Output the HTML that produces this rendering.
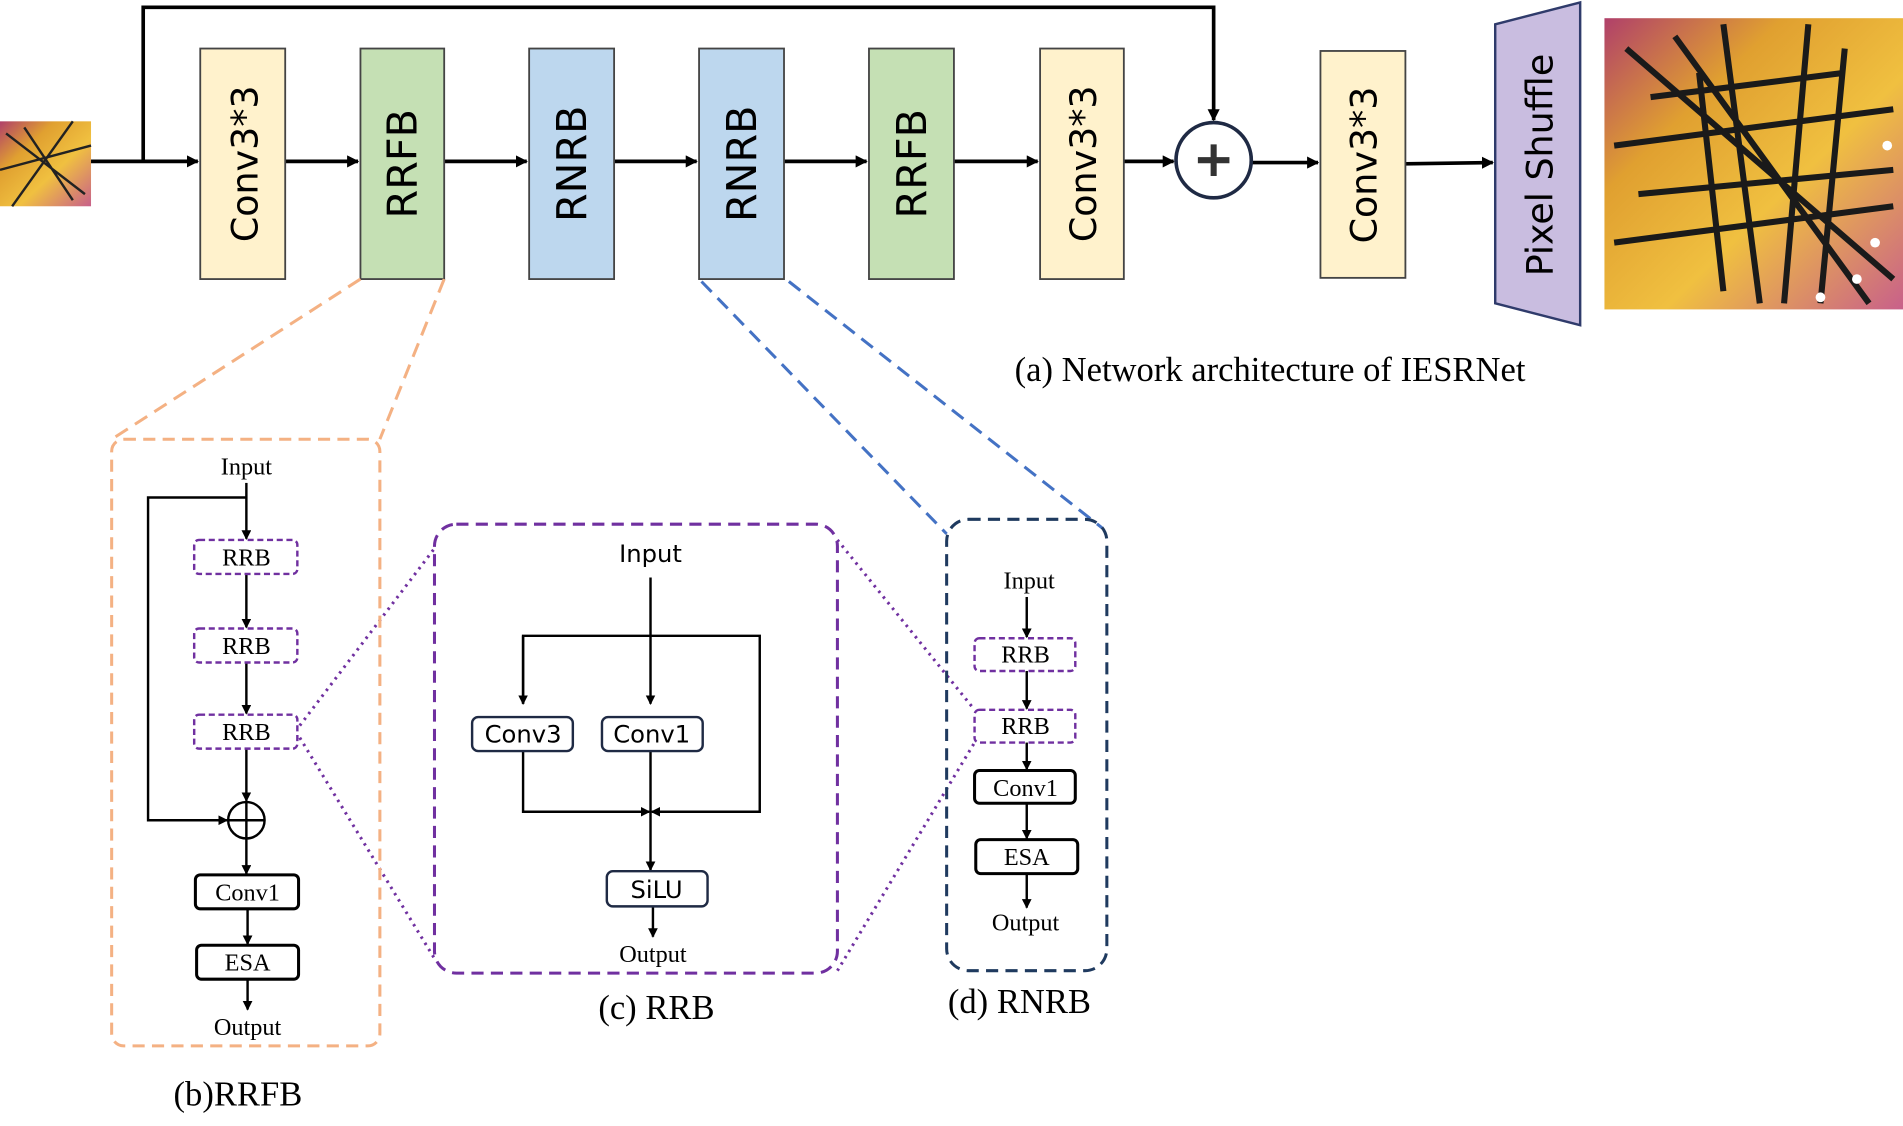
<!DOCTYPE html>
<html><head><meta charset="utf-8"><style>html,body{margin:0;padding:0;background:#fff}svg{display:block}</style></head>
<body>
<svg width="1903" height="1126" viewBox="0 0 1568 928" preserveAspectRatio="none" xmlns="http://www.w3.org/2000/svg">
<defs>
<marker id="a" markerWidth="10" markerHeight="10" refX="9" refY="5" orient="auto" markerUnits="userSpaceOnUse"><path d="M0,0 L10,5 L0,10 z" fill="#000"/></marker>
<marker id="s" markerWidth="8" markerHeight="8" refX="7" refY="4" orient="auto" markerUnits="userSpaceOnUse"><path d="M0,0 L8,4 L0,8 z" fill="#000"/></marker>
<linearGradient id="bf" x1="0" y1="0" x2="1" y2="1"><stop offset="0" stop-color="#b0406a"/><stop offset="0.3" stop-color="#e0a030"/><stop offset="0.6" stop-color="#f0c040"/><stop offset="1" stop-color="#c8608a"/></linearGradient>
</defs>
<style>
.t{font-family:"DejaVu Sans","Liberation Sans",sans-serif;font-size:30px}
.s{font-family:"Liberation Serif",serif;font-size:20px}
.c{font-family:"Liberation Serif",serif;font-size:28.5px}
.ss{font-family:"DejaVu Sans","Liberation Sans",sans-serif;font-size:20px}
</style>
<rect x="0" y="100" width="75" height="70" fill="url(#bf)"/>
<path d="M5,110 L70,160 M20,105 L60,165 M0,140 L75,120 M10,170 L60,100" stroke="#222" stroke-width="2"/>
<rect x="1322" y="15" width="246" height="240" fill="url(#bf)"/>
<path d="M1340,40 L1560,230 M1380,30 L1540,250 M1330,120 L1560,90 M1420,20 L1450,250 M1490,20 L1470,250 M1330,200 L1560,170 M1360,80 L1520,60 M1350,160 L1560,140 M1400,60 L1420,240 M1520,40 L1500,250" stroke="#1a1a1a" stroke-width="5" fill="none"/>
<g fill="#fff"><circle cx="1545" cy="200" r="4"/><circle cx="1530" cy="230" r="4"/><circle cx="1555" cy="120" r="4"/><circle cx="1500" cy="245" r="4"/></g>
<g stroke="#000" stroke-width="3" fill="none">
<line x1="75" y1="133" x2="163" y2="133" marker-end="url(#a)"/>
<line x1="235" y1="133" x2="295" y2="133" marker-end="url(#a)"/>
<line x1="366" y1="133" x2="434" y2="133" marker-end="url(#a)"/>
<line x1="506" y1="133" x2="574" y2="133" marker-end="url(#a)"/>
<line x1="646" y1="133" x2="714" y2="133" marker-end="url(#a)"/>
<line x1="786" y1="133" x2="855" y2="133" marker-end="url(#a)"/>
<line x1="926" y1="133" x2="967" y2="133" marker-end="url(#a)"/>
<line x1="1032" y1="134" x2="1086" y2="134" marker-end="url(#a)"/>
<line x1="1158" y1="135" x2="1230" y2="134" marker-end="url(#a)"/>
<polyline points="118,133 118,6 1000,6 1000,99" marker-end="url(#a)"/>
</g>
<g stroke="#444" stroke-width="1.5">
<rect x="165" y="40" width="70" height="190" fill="#fff2cc"/>
<rect x="297" y="40" width="69" height="190" fill="#c5e0b4"/>
<rect x="436" y="40" width="70" height="190" fill="#bdd7ee"/>
<rect x="576" y="40" width="70" height="190" fill="#bdd7ee"/>
<rect x="716" y="40" width="70" height="190" fill="#c5e0b4"/>
<rect x="857" y="40" width="69" height="190" fill="#fff2cc"/>
<rect x="1088" y="42" width="70" height="187" fill="#fff2cc"/>
<polygon points="1232,20 1302,2 1302,268 1232,250" fill="#c9bde0" stroke="#2f3b6b" stroke-width="2"/>
</g>
<circle cx="1000" cy="132" r="31" fill="#fff" stroke="#1f2a44" stroke-width="3"/>
<path d="M987,132 H1013 M1000,119 V145" stroke="#333" stroke-width="5"/>
<g class="t" text-anchor="middle">
<text transform="translate(212,135) rotate(-90)">Conv3*3</text>
<text transform="translate(343,135) rotate(-90)" font-size="34">RRFB</text>
<text transform="translate(483,135) rotate(-90)" font-size="34">RNRB</text>
<text transform="translate(623,135) rotate(-90)" font-size="34">RNRB</text>
<text transform="translate(763,135) rotate(-90)" font-size="34">RRFB</text>
<text transform="translate(903,135) rotate(-90)">Conv3*3</text>
<text transform="translate(1134,136) rotate(-90)">Conv3*3</text>
<text transform="translate(1279,136) rotate(-90)">Pixel Shuffle</text>
</g>
<text class="c" x="836" y="314">(a) Network architecture of IESRNet</text>
<g stroke-width="2.5" fill="none" stroke-dasharray="12,7">
<path d="M297,230 L92,362 M366,230 L313,362" stroke="#f4b183"/>
<path d="M578,232 L780,440 M650,232 L908,435" stroke="#4472c4"/>
</g>
<g stroke="#7030a0" stroke-width="2.5" fill="none" stroke-dasharray="2,4">
<path d="M247,598 L358,452 M247,608 L358,790 M690,445 L803,585 M690,800 L803,612"/>
</g>
<rect x="92" y="362" width="221" height="500" rx="10" fill="none" stroke="#f4b183" stroke-width="2.5" stroke-dasharray="10,6"/>
<rect x="358" y="432" width="332" height="370" rx="18" fill="none" stroke="#7030a0" stroke-width="2.5" stroke-dasharray="10,6"/>
<rect x="780" y="428" width="132" height="372" rx="18" fill="none" stroke="#1f3a5f" stroke-width="2.5" stroke-dasharray="10,6"/>
<g stroke="#000" stroke-width="2" fill="none">
<line x1="203" y1="398" x2="203" y2="444" marker-end="url(#s)"/>
<line x1="203" y1="473" x2="203" y2="517" marker-end="url(#s)"/>
<line x1="203" y1="546" x2="203" y2="588" marker-end="url(#s)"/>
<line x1="203" y1="617" x2="203" y2="660" marker-end="url(#s)"/>
<polyline points="203,410 122,410 122,676 187,676" marker-end="url(#s)"/>
<line x1="203" y1="691" x2="203" y2="720" marker-end="url(#s)"/>
<line x1="204" y1="749" x2="204" y2="778" marker-end="url(#s)"/>
<line x1="204" y1="807" x2="204" y2="832" marker-end="url(#s)"/>
<circle cx="203" cy="676" r="15"/><path d="M188,676 H218 M203,661 V691"/>
</g>
<g stroke="#7030a0" stroke-width="2" fill="#fff" stroke-dasharray="5,3">
<rect x="160" y="445" width="85" height="28" rx="4"/>
<rect x="160" y="518" width="85" height="28" rx="4"/>
<rect x="160" y="589" width="85" height="28" rx="4"/>
<rect x="803" y="526" width="83" height="27" rx="4"/>
<rect x="803" y="585" width="83" height="27" rx="4"/>
</g>
<g stroke="#000" stroke-width="2.5" fill="#fff">
<rect x="161" y="721" width="85" height="28" rx="4"/>
<rect x="162" y="779" width="84" height="28" rx="4"/>
<rect x="803" y="635" width="83" height="27" rx="4"/>
<rect x="804" y="692" width="84" height="28" rx="4"/>
</g>
<g class="s" text-anchor="middle">
<text x="203" y="391">Input</text>
<text x="203" y="466">RRB</text><text x="203" y="539">RRB</text><text x="203" y="610">RRB</text>
<text x="204" y="742">Conv1</text><text x="204" y="800">ESA</text>
<text x="204" y="853">Output</text>
<text x="848" y="485">Input</text>
<text x="845" y="546">RRB</text><text x="845" y="605">RRB</text>
<text x="845" y="656">Conv1</text><text x="846" y="713">ESA</text>
<text x="845" y="767">Output</text>
<text x="538" y="793">Output</text>
</g>
<g stroke="#000" stroke-width="2" fill="none">
<line x1="846" y1="492" x2="846" y2="525" marker-end="url(#s)"/>
<line x1="846" y1="553" x2="846" y2="584" marker-end="url(#s)"/>
<line x1="846" y1="612" x2="846" y2="634" marker-end="url(#s)"/>
<line x1="846" y1="662" x2="846" y2="691" marker-end="url(#s)"/>
<line x1="846" y1="720" x2="846" y2="748" marker-end="url(#s)"/>
</g>
<g stroke="#000" stroke-width="2" fill="none">
<line x1="536" y1="476" x2="536" y2="580" marker-end="url(#s)"/>
<polyline points="431,580 431,524 626,524 626,669 537,669" marker-end="url(#s)"/>
<line x1="431" y1="524" x2="431" y2="580" marker-end="url(#s)"/>
<polyline points="431,619 431,669 535,669" marker-end="url(#s)"/>
<line x1="536" y1="619" x2="536" y2="717" marker-end="url(#s)"/>
<line x1="538" y1="747" x2="538" y2="772" marker-end="url(#s)"/>
</g>
<g stroke="#1f2a44" stroke-width="2" fill="#fff">
<rect x="389" y="591" width="83" height="28" rx="5"/>
<rect x="496" y="591" width="83" height="28" rx="5"/>
<rect x="500" y="718" width="83" height="29" rx="5"/>
</g>
<g class="ss" text-anchor="middle">
<text x="536" y="463">Input</text>
<text x="431" y="612">Conv3</text><text x="537" y="612">Conv1</text>
<text x="541" y="740">SiLU</text>
</g>
<g class="c">
<text x="143" y="911">(b)RRFB</text>
<text x="493" y="840">(c) RRB</text>
<text x="781" y="835">(d) RNRB</text>
</g>
</svg>
</body></html>
